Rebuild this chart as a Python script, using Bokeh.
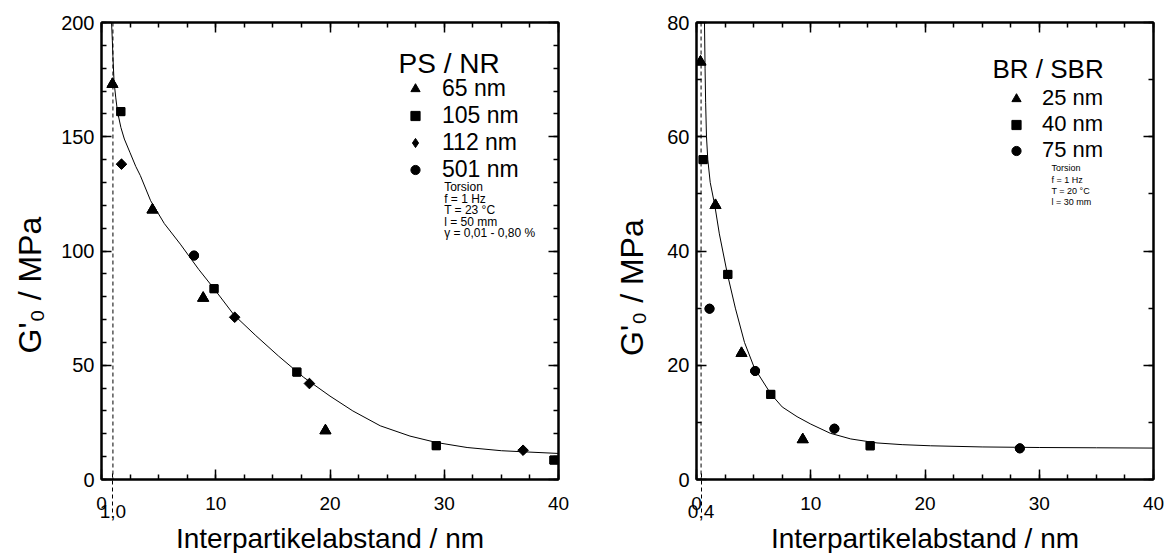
import numpy as np
from bokeh.plotting import figure
from bokeh.layouts import row
from bokeh.models import (Range1d, LinearAxis, Label, Span, Legend, LegendItem, Title,
                          SingleIntervalTicker, FixedTicker, CustomJSTickFormatter)
from bokeh.embed import file_html
from bokeh.resources import INLINE

FONT = "Liberation Sans"

# ---------------- Left panel: PS / NR ----------------
ps_65_x = [0.96, 4.46, 8.9, 19.6]
ps_65_y = [173.0, 118.0, 79.4, 21.4]
ps_105_x = [1.69, 9.85, 17.1, 29.3, 39.6]
ps_105_y = [161.0, 83.5, 47.0, 14.8, 8.5]
ps_112_x = [1.75, 11.66, 18.2, 36.9]
ps_112_y = [138.0, 71.0, 42.0, 12.8]
ps_501_x = [8.1]
ps_501_y = [98.0]

ps_fit_x = [0.88, 0.95, 1.0, 1.1, 1.25, 1.4, 1.7, 2.0, 2.5, 3.0, 3.4, 4.3, 5.5, 6.9,
            8.5, 9.85, 11.6, 13.5, 15.5, 17.7, 20.0, 22.0, 24.4, 27.0, 29.3, 32.0,
            35.0, 37.0, 40.0]
ps_fit_y = [200, 192, 185, 174, 167, 161, 154, 149, 143, 137, 133, 122, 112, 103,
            92, 83.5, 72, 63, 54, 44.7, 36.5, 30, 23.5, 19, 16.2, 14, 12.6, 12.1, 11.4]

ps_title = "PS / NR"
ps_labels = ["65 nm", "105 nm", "112 nm", "501 nm"]
ps_notes = ["Torsion", "f = 1 Hz", "T = 23 °C", "l = 50 mm", "γ = 0,01 - 0,80 %"]

# ---------------- Right panel: BR / SBR ----------------
br_25_x = [0.35, 1.66, 3.94, 9.3]
br_25_y = [73.1, 48.0, 22.1, 7.0]
br_40_x = [0.58, 2.74, 6.5, 15.2]
br_40_y = [56.0, 35.9, 14.9, 5.9]
br_75_x = [1.14, 5.13, 12.07, 28.3]
br_75_y = [29.9, 19.0, 8.9, 5.45]

br_fit_x = [0.70, 0.75, 0.8, 0.875, 0.99, 1.2, 1.6, 2.0, 2.7, 3.4, 4.2, 5.07, 6.5,
            7.5, 8.8, 10.0, 11.7, 13.5, 15.8, 18.0, 20.5, 25.0, 30.0, 35.0, 40.0]
br_fit_y = [80, 72, 66, 60, 56, 52, 48, 43, 36, 30, 24, 19.5, 15, 12.7, 11, 9.7,
            8.1, 7.1, 6.4, 6.1, 5.9, 5.7, 5.6, 5.55, 5.5]

br_title = "BR / SBR"
br_labels = ["25 nm", "40 nm", "75 nm"]
br_notes = ["Torsion", "f = 1 Hz", "T = 20 °C", "l = 30 mm"]

x_label = "Interpartikelabstand / nm"
y_label = "G'₀ / MPa"


def style_axis(ax, size="19px", show_labels=True):
    ax.axis_line_width = 2
    ax.axis_line_color = "black"
    ax.major_tick_in = 10
    ax.major_tick_out = 0
    ax.minor_tick_in = 5
    ax.minor_tick_out = 0
    ax.major_tick_line_width = 1.5
    ax.minor_tick_line_width = 1.5
    ax.major_tick_line_color = "black"
    ax.minor_tick_line_color = "black"
    ax.major_label_text_font = FONT
    ax.major_label_text_color = "black"
    if show_labels:
        ax.major_label_text_font_size = size
    else:
        ax.major_label_text_font_size = "1px"
        ax.major_label_standoff = 0
        ax.formatter = CustomJSTickFormatter(code="return ''")


def make_panel(ymax, y_int, y_minor, border_left, border_right, series, legend_rs,
               fit_x, fit_y, title, title_size, title_xy, labels, label_size,
               notes, note_size, note_x, note_y,
               leg_loc, leg_glyph_w, leg_standoff,
               dash_x, dash_label, ylab_offset, ylab_standoff):
    p = figure(frame_width=457, frame_height=457,
               x_range=Range1d(0, 40), y_range=Range1d(0, ymax),
               output_backend="svg", toolbar_location=None,
               x_axis_type=None, y_axis_type=None,
               min_border_left=border_left, min_border_right=border_right,
               min_border_top=22, min_border_bottom=74)
    p.outline_line_color = "black"
    p.outline_line_width = 2
    p.background_fill_color = "white"
    p.border_fill_color = "white"

    xt = SingleIntervalTicker(interval=10, num_minor_ticks=4)
    yt = SingleIntervalTicker(interval=y_int, num_minor_ticks=y_minor)

    # main bottom axis (ticks + numbers)
    xb = LinearAxis(ticker=xt)
    style_axis(xb, "19px")
    xb.major_label_standoff = 17
    p.add_layout(xb, "below")

    # second bottom axis: dashed marker tick, its value label and the axis title
    xb2 = LinearAxis(ticker=FixedTicker(ticks=[dash_x], minor_ticks=[]))
    xb2.axis_line_color = None
    xb2.major_tick_in = 39
    xb2.major_tick_out = 0
    xb2.major_tick_line_dash = "4 3"
    xb2.major_tick_line_width = 1
    xb2.major_tick_line_color = "black"
    xb2.major_label_overrides = {dash_x: dash_label}
    xb2.major_label_text_font = FONT
    xb2.major_label_text_font_size = "19px"
    xb2.major_label_text_color = "black"
    xb2.major_label_standoff = -8
    xb2.axis_label = x_label
    xb2.axis_label_text_font = FONT
    xb2.axis_label_text_font_size = "28px"
    xb2.axis_label_text_font_style = "normal"
    xb2.axis_label_text_color = "black"
    xb2.axis_label_standoff = 2
    p.add_layout(xb2, "below")

    yl = LinearAxis(ticker=yt)
    style_axis(yl, "20px")
    yl.major_label_standoff = 7
    p.add_layout(yl, "left")

    p.add_layout(Title(text=y_label, align="left", offset=ylab_offset,
                       vertical_align="top", standoff=ylab_standoff,
                       text_font=FONT, text_font_size="32px",
                       text_font_style="normal", text_color="black"), "left")

    xa = LinearAxis(ticker=SingleIntervalTicker(interval=10, num_minor_ticks=4))
    style_axis(xa, show_labels=False)
    p.add_layout(xa, "above")
    yr = LinearAxis(ticker=SingleIntervalTicker(interval=y_int, num_minor_ticks=y_minor))
    style_axis(yr, show_labels=False)
    p.add_layout(yr, "right")

    # dashed marker line inside the frame
    p.add_layout(Span(location=dash_x, dimension="height", line_color="black",
                      line_width=1, line_dash="4 3"))

    # fit curve
    p.line(fit_x, fit_y, line_color="black", line_width=1)

    for xs, ys, marker, size, ang in series:
        p.scatter(xs, ys, marker=marker, size=size, angle=ang,
                  fill_color="black", line_color="black")

    # legend keys (the diamond key uses Bokeh's diamond marker, drawn under
    # the rotated squares of the data)
    items = []
    for (xs, ys, marker, size), lab in zip(legend_rs, labels):
        r = p.scatter(xs, ys, marker=marker, size=size,
                      fill_color="black", line_color="black")
        items.append(LegendItem(label=lab, renderers=[r]))

    leg = Legend(items=items, location=leg_loc,
                 label_text_font=FONT, label_text_font_size=label_size,
                 label_text_color="black",
                 glyph_width=leg_glyph_w, glyph_height=23, label_standoff=leg_standoff,
                 label_height=20, spacing=0, padding=0, margin=0,
                 border_line_alpha=0, background_fill_alpha=0)
    p.add_layout(leg)

    p.add_layout(Label(x=title_xy[0], y=title_xy[1], text=title, text_font=FONT,
                       text_font_size=title_size, text_align="left",
                       text_baseline="alphabetic", text_color="black"))

    for txt, yy in zip(notes, note_y):
        p.add_layout(Label(x=note_x, y=yy, text=txt, text_font=FONT,
                           text_font_size=note_size, text_align="left",
                           text_baseline="alphabetic", text_color="black"))
    return p


left_series = [
    (ps_65_x, ps_65_y, "triangle", 11, 0),
    (ps_105_x, ps_105_y, "square", 8, 0),
    (ps_112_x, ps_112_y, "square", 7.5, np.pi / 4),
    (ps_501_x, ps_501_y, "circle", 9, 0),
]
left_legend = [
    (ps_65_x, ps_65_y, "triangle", 11),
    (ps_105_x, ps_105_y, "square", 8),
    (ps_112_x, ps_112_y, "diamond", 9.5),
    (ps_501_x, ps_501_y, "circle", 9),
]
right_series = [
    (br_25_x, br_25_y, "triangle", 11, 0),
    (br_40_x, br_40_y, "square", 8, 0),
    (br_75_x, br_75_y, "circle", 9, 0),
]
right_legend = [(s[0], s[1], s[2], s[3]) for s in right_series]

p1 = make_panel(200, 50, 5, 101, 38, left_series, left_legend, ps_fit_x, ps_fit_y,
                ps_title, "28px", (26.0, 182.2), ps_labels, "23px",
                ps_notes, "12px", 29.99,
                [127.9, 122.9, 117.8, 112.9, 107.7], (299, 296),
                30, 12,
                1.0, "1,0", 126, 18)
p2 = make_panel(80, 20, 2, 100, 12, right_series, right_legend, br_fit_x, br_fit_y,
                br_title, "26px", (25.9, 71.85), br_labels, "22px",
                br_notes, "9px", 31.07,
                [54.55, 52.5, 50.5, 48.5], (297, 316),
                46, 3,
                0.4, "0,4", 123.5, 25)

layout = row(p1, p2)
open("out.html", "w").write(file_html(layout, INLINE))
